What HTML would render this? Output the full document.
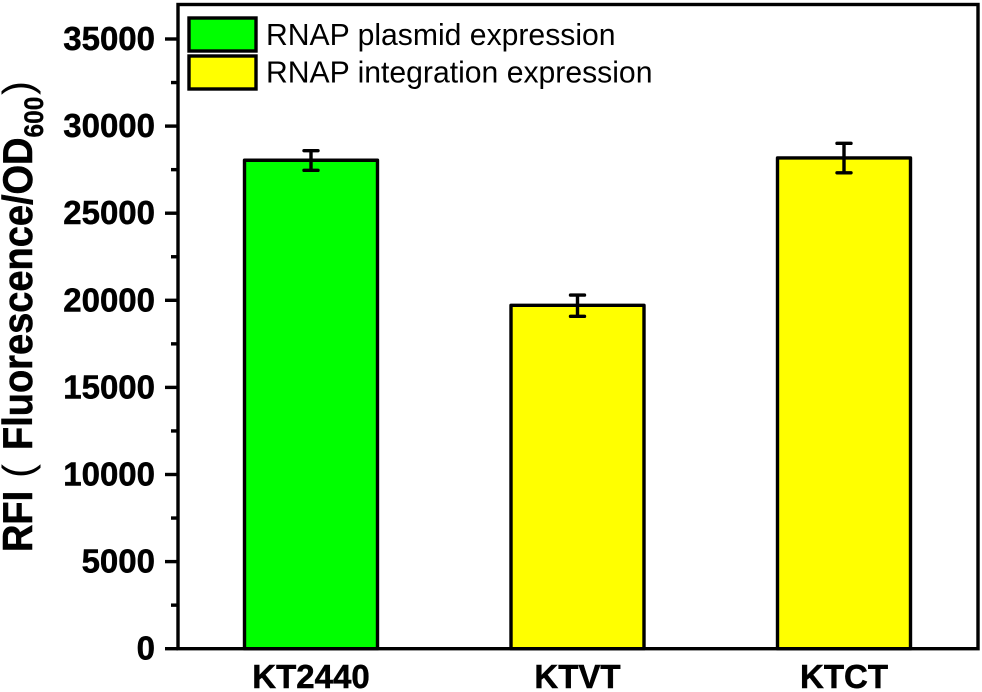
<!DOCTYPE html>
<html lang="en">
<head>
<meta charset="utf-8">
<title>RNAP expression chart</title>
<style>
html,body{margin:0;padding:0;background:#fff;}
svg{display:block;font-family:"Liberation Sans",Arial,sans-serif;}
</style>
</head>
<body>
<svg id="chart" xmlns="http://www.w3.org/2000/svg" width="982" height="692" viewBox="0 0 982 692">
  <rect x="0" y="0" width="982" height="692" fill="#fff"/>
  <g id="bars"></g>
  <g id="errors"></g>
  <rect x="178" y="4.5" width="800" height="644.2" fill="none" stroke="#000" stroke-width="3.4"/>
  <g id="y-axis"></g>
  <g id="x-axis"></g>
  <g fill="#000">
    <text transform="translate(32,552) rotate(-90) scale(1,1.1)" font-size="38" font-weight="bold" stroke="#000" stroke-width="0.5">RFI</text>
    <text transform="translate(32,478) rotate(-90)" font-size="42">(</text>
    <text transform="translate(32,450) rotate(-90) scale(1,1.1)" font-size="38" font-weight="bold" stroke="#000" stroke-width="0.5">Fluorescence/OD</text>
    <text transform="translate(43,137.5) rotate(-90) scale(1,1.1)" font-size="24.5" font-weight="bold" stroke="#000" stroke-width="0.3">600</text>
    <text transform="translate(32,95) rotate(-90)" font-size="42">)</text>
  </g>
  <g>
    <g>
      <rect x="189" y="18" width="67" height="33" fill="#00ff00" stroke="#000" stroke-width="3.4"/>
      <text x="266" y="45" font-size="30.15" fill="#000">RNAP plasmid expression</text>
    </g>
    <g>
      <rect x="189" y="56" width="67" height="33" fill="#ffff00" stroke="#000" stroke-width="3.4"/>
      <text x="266" y="82.5" font-size="30.15" fill="#000">RNAP integration expression</text>
    </g>
  </g>
</svg>
<script>
const categories = ["KT2440", "KTVT", "KTCT"];
const seriesValues = [28040, 19710, 28170];
const errorLow = [27460, 19080, 27320];
const errorHigh = [28590, 20300, 29010];
const barColors = ["#00ff00", "#ffff00", "#ffff00"];
const yTickLabels = [0, 5000, 10000, 15000, 20000, 25000, 30000, 35000];
const yMinorTicks = [2500, 7500, 12500, 17500, 22500, 27500, 32500];

const NS = "http://www.w3.org/2000/svg";
const yScale = function (v) { return 648.7 - v * 87.1 / 5000; };
const xScale = function (i) { return 311 + i * 266.5; };
const BAR_WIDTH = 133;
const CAP_HALF = 7;

function make(tag, attrs, parent) {
  const el = document.createElementNS(NS, tag);
  for (const k in attrs) { el.setAttribute(k, attrs[k]); }
  parent.appendChild(el);
  return el;
}

const barsG = document.getElementById("bars");
const errorsG = document.getElementById("errors");
const yG = document.getElementById("y-axis");
const xG = document.getElementById("x-axis");

categories.forEach(function (name, i) {
  const cx = xScale(i);
  const top = yScale(seriesValues[i]);
  const bar = make("rect", { x: cx - BAR_WIDTH / 2, y: top, width: BAR_WIDTH, height: yScale(0) - top, fill: barColors[i], stroke: "#000", "stroke-width": 3.4, "stroke-linejoin": "round" }, barsG);
  
  

  const hi = yScale(errorHigh[i]);
  const lo = yScale(errorLow[i]);
  const err = make("path", { d: "M" + (cx - CAP_HALF) + " " + hi + "H" + (cx + CAP_HALF) + "M" + cx + " " + hi + "V" + lo + "M" + (cx - CAP_HALF) + " " + lo + "H" + (cx + CAP_HALF), fill: "none", stroke: "#000", "stroke-width": 3.4, "stroke-linecap": "round" }, errorsG);
  
  

  const label = make("text", { x: cx, y: 688, "text-anchor": "middle", "font-size": 33, "font-weight": "bold", fill: "#000", stroke: "#000", "stroke-width": 0.5 }, xG);
  label.textContent = name;
  
  
});

yTickLabels.forEach(function (v) {
  const y = yScale(v);
  const tick = make("line", { x1: 165, x2: 178, y1: y, y2: y, stroke: "#000", "stroke-width": 3.4 }, yG);
  
  

  const label = make("text", { x: 155, y: y + 11, "text-anchor": "end", "font-size": 33, "font-weight": "bold", fill: "#000", stroke: "#000", "stroke-width": 0.5 }, yG);
  label.textContent = String(v);
  
  
});

yMinorTicks.forEach(function (v) {
  const y = yScale(v);
  const tick = make("line", { x1: 171, x2: 178, y1: y, y2: y, stroke: "#000", "stroke-width": 3.4 }, yG);
  
  
});
</script>
</body>
</html>
